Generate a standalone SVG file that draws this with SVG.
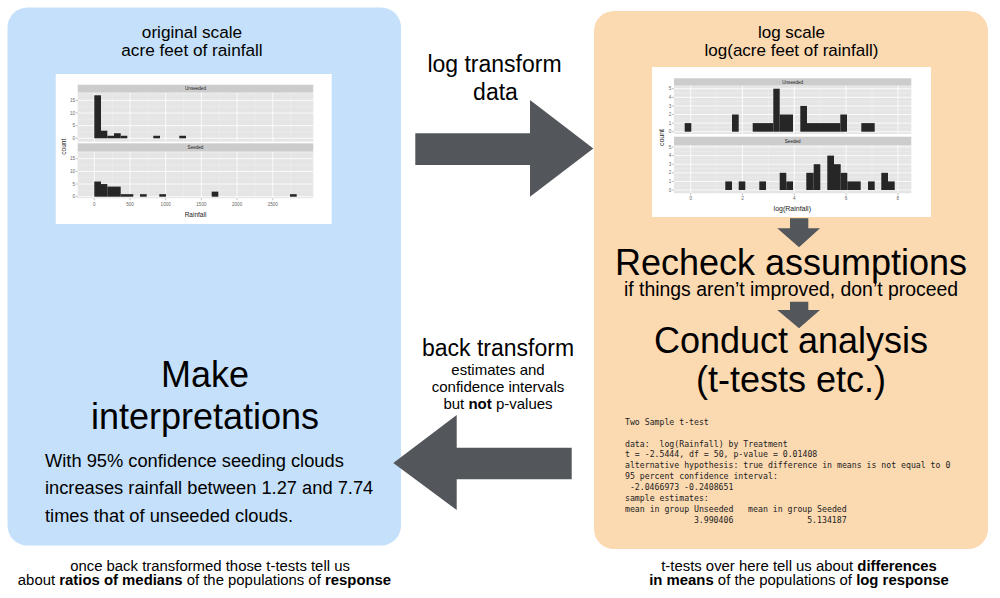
<svg xmlns="http://www.w3.org/2000/svg" width="1000" height="598" viewBox="0 0 1000 598">
<style>
.t{font-family:"Liberation Sans",Arial,sans-serif;fill:#000}
.c{text-anchor:middle}
.m{font-family:"DejaVu Sans Mono","Liberation Mono",monospace;font-size:8.2px;fill:#222}
.pb{fill:#E5E5E5}
.st{fill:#CCCCCC}
.gM{stroke:#fff;stroke-width:0.8}
.gm{stroke:#F2F2F2;stroke-width:0.4}
.bar{fill:#262626}
.tk{stroke:#7F7F7F;stroke-width:0.5}
.ax{font-family:"Liberation Sans",Arial,sans-serif;font-size:4.6px;fill:#666}
.sx{font-family:"Liberation Sans",Arial,sans-serif;font-size:4.6px;fill:#222;text-anchor:middle}
.al{font-family:"Liberation Sans",Arial,sans-serif;fill:#222;text-anchor:middle}
.arr{fill:#53575C}
</style>

<g id="left-box">
<rect x="7.5" y="7.5" width="393.5" height="538" rx="20" fill="#C5E0FA"/>
<text class="t c" x="192" y="37.5" font-size="17.2">original scale</text>
<text class="t c" x="192" y="56" font-size="17.2">acre feet of rainfall</text>
</g>

<g id="left-plot">
<rect x="55.7" y="74" width="276" height="150" fill="#fff"/>
<rect class="st" x="77.7" y="84.7" width="235.6" height="8"/>
<rect class="pb" x="77.7" y="92.7" width="235.6" height="49"/>
<rect class="st" x="77.7" y="143.3" width="235.6" height="8.4"/>
<rect class="pb" x="77.7" y="151.7" width="235.6" height="46.6"/>
<g class="gm">
<path d="M112.2,92.7V141.7M147.9,92.7V141.7M183.6,92.7V141.7M219.3,92.7V141.7M255,92.7V141.7M290.7,92.7V141.7M77.7,132H313.3M77.7,119.3H313.3M77.7,106.7H313.3M77.7,94H313.3"/>
<path d="M112.2,151.7V198.3M147.9,151.7V198.3M183.6,151.7V198.3M219.3,151.7V198.3M255,151.7V198.3M290.7,151.7V198.3M77.7,190.4H313.3M77.7,177.7H313.3M77.7,165H313.3M77.7,152.4H313.3"/>
</g>
<g class="gM">
<path d="M94.3,92.7V141.7M130,92.7V141.7M165.7,92.7V141.7M201.4,92.7V141.7M237.1,92.7V141.7M272.8,92.7V141.7M77.7,138.3H313.3M77.7,125.65H313.3M77.7,113H313.3M77.7,100.35H313.3"/>
<path d="M94.3,151.7V198.3M130,151.7V198.3M165.7,151.7V198.3M201.4,151.7V198.3M237.1,151.7V198.3M272.8,151.7V198.3M77.7,196.7H313.3M77.7,184H313.3M77.7,171.4H313.3M77.7,158.7H313.3"/>
</g>
<g class="bar">
<rect x="94.3" y="95.3" width="6.7" height="43"/>
<rect x="101" y="130.7" width="6.3" height="7.6"/>
<rect x="107.3" y="135.77" width="6.7" height="2.53"/>
<rect x="114" y="133.24" width="6.7" height="5.06"/>
<rect x="120.7" y="135.77" width="6.6" height="2.53"/>
<rect x="153.3" y="135.77" width="6.7" height="2.53"/>
<rect x="179.3" y="135.77" width="6.7" height="2.53"/>
<rect x="94.3" y="181.52" width="6.7" height="15.18"/>
<rect x="101" y="184.05" width="6.3" height="12.65"/>
<rect x="107.3" y="186.58" width="13.4" height="10.12"/>
<rect x="120.7" y="194.17" width="12.6" height="2.53"/>
<rect x="140" y="194.17" width="6.7" height="2.53"/>
<rect x="159.3" y="194.17" width="6.7" height="2.53"/>
<rect x="211.7" y="191.64" width="6.6" height="5.06"/>
<rect x="290" y="194.17" width="6.7" height="2.53"/>
</g>
<path class="tk" d="M75.7,138.3H77.7M75.7,125.65H77.7M75.7,113H77.7M75.7,100.35H77.7M75.7,196.7H77.7M75.7,184H77.7M75.7,171.4H77.7M75.7,158.7H77.7M94.3,198.3V200.3M130,198.3V200.3M165.7,198.3V200.3M201.4,198.3V200.3M237.1,198.3V200.3M272.8,198.3V200.3"/>
<g class="ax" text-anchor="end">
<text x="75" y="139.9">0</text><text x="75" y="127.2">5</text><text x="75" y="114.6">10</text><text x="75" y="101.9">15</text>
<text x="75" y="198.3">0</text><text x="75" y="185.6">5</text><text x="75" y="173">10</text><text x="75" y="160.3">15</text>
</g>
<g class="ax" text-anchor="middle">
<text x="94.3" y="205.5">0</text><text x="130" y="205.5">500</text><text x="165.7" y="205.5">1000</text><text x="201.4" y="205.5">1500</text><text x="237.1" y="205.5">2000</text><text x="272.8" y="205.5">2500</text>
</g>
<text class="sx" x="195.5" y="90.3">Unseeded</text>
<text class="sx" x="195.5" y="149.2">Seeded</text>
<text class="al" x="195.5" y="217" font-size="6.5">Rainfall</text>
<text class="al" x="0" y="0" font-size="6.5" transform="translate(65.5,146.7) rotate(-90)">count</text>
</g>

<g id="right-box">
<rect x="594" y="11" width="394" height="538" rx="20" fill="#FBD9B1"/>
<text class="t c" x="791.5" y="37.5" font-size="17">log scale</text>
<text class="t c" x="791.5" y="56" font-size="17">log(acre feet of rainfall)</text>
<text class="t c" x="791" y="274.5" font-size="36">Recheck assumptions</text>
<text class="t c" x="791" y="295.5" font-size="19.4">if things aren’t improved, don’t proceed</text>
<text class="t c" x="791" y="353" font-size="36">Conduct analysis</text>
<text class="t c" x="791" y="391.5" font-size="36">(t-tests etc.)</text>
</g>

<g id="right-plot">
<rect x="652" y="67" width="279" height="150" fill="#fff"/>
<rect class="st" x="674" y="78.3" width="237.3" height="7.4"/>
<rect class="pb" x="674" y="85.7" width="237.3" height="48.3"/>
<rect class="st" x="674" y="136.7" width="237.3" height="8.3"/>
<rect class="pb" x="674" y="145" width="237.3" height="48.3"/>
<g class="gm">
<path d="M716.6,85.7V134M768.4,85.7V134M820.2,85.7V134M872,85.7V134M674,127.4H911.3M674,118.8H911.3M674,110.2H911.3M674,101.6H911.3M674,93H911.3"/>
<path d="M716.6,145V193.3M768.4,145V193.3M820.2,145V193.3M872,145V193.3M674,185.7H911.3M674,177.1H911.3M674,168.5H911.3M674,159.9H911.3M674,151.3H911.3"/>
</g>
<g class="gM">
<path d="M690.7,85.7V134M742.5,85.7V134M794.3,85.7V134M846.1,85.7V134M897.9,85.7V134M674,131.7H911.3M674,123.1H911.3M674,114.5H911.3M674,105.9H911.3M674,97.3H911.3M674,88.7H911.3"/>
<path d="M690.7,145V193.3M742.5,145V193.3M794.3,145V193.3M846.1,145V193.3M897.9,145V193.3M674,190H911.3M674,181.4H911.3M674,172.8H911.3M674,164.2H911.3M674,155.6H911.3M674,147H911.3"/>
</g>
<g class="bar">
<rect x="684.7" y="123.1" width="6.6" height="8.6"/>
<rect x="732" y="114.5" width="6.7" height="17.2"/>
<rect x="752.7" y="123.1" width="20.6" height="8.6"/>
<rect x="773.3" y="88.7" width="6.4" height="43"/>
<rect x="779.7" y="114.5" width="13.3" height="17.2"/>
<rect x="800.3" y="105.9" width="6.7" height="25.8"/>
<rect x="807" y="123.1" width="33.3" height="8.6"/>
<rect x="840.3" y="114.5" width="6.7" height="17.2"/>
<rect x="861.3" y="123.1" width="13.4" height="8.6"/>
<rect x="725.3" y="181.4" width="6.7" height="8.6"/>
<rect x="738.7" y="181.4" width="6.6" height="8.6"/>
<rect x="759.3" y="181.4" width="6.7" height="8.6"/>
<rect x="779.7" y="172.8" width="6.6" height="17.2"/>
<rect x="786.3" y="181.4" width="6.7" height="8.6"/>
<rect x="806.3" y="172.8" width="7.4" height="17.2"/>
<rect x="813.7" y="164.2" width="6.6" height="25.8"/>
<rect x="827.3" y="155.6" width="6.7" height="34.4"/>
<rect x="834" y="164.2" width="6.7" height="25.8"/>
<rect x="840.7" y="172.8" width="6.6" height="17.2"/>
<rect x="847.3" y="181.4" width="13.4" height="8.6"/>
<rect x="868" y="181.4" width="6.7" height="8.6"/>
<rect x="881.3" y="172.8" width="6.7" height="17.2"/>
<rect x="888" y="181.4" width="6.7" height="8.6"/>
</g>
<path class="tk" d="M672,131.7H674M672,123.1H674M672,114.5H674M672,105.9H674M672,97.3H674M672,88.7H674M672,190H674M672,181.4H674M672,172.8H674M672,164.2H674M672,155.6H674M672,147H674M690.7,193.3V195.3M742.5,193.3V195.3M794.3,193.3V195.3M846.1,193.3V195.3M897.9,193.3V195.3"/>
<g class="ax" text-anchor="end">
<text x="671.3" y="133.3">0</text><text x="671.3" y="124.7">1</text><text x="671.3" y="116.1">2</text><text x="671.3" y="107.5">3</text><text x="671.3" y="98.9">4</text><text x="671.3" y="90.3">5</text>
<text x="671.3" y="191.6">0</text><text x="671.3" y="183">1</text><text x="671.3" y="174.4">2</text><text x="671.3" y="165.8">3</text><text x="671.3" y="157.2">4</text><text x="671.3" y="148.6">5</text>
</g>
<g class="ax" text-anchor="middle">
<text x="690.7" y="200.3">0</text><text x="742.5" y="200.3">2</text><text x="794.3" y="200.3">4</text><text x="846.1" y="200.3">6</text><text x="897.9" y="200.3">8</text>
</g>
<text class="sx" x="792.7" y="83.6">Unseeded</text>
<text class="sx" x="792.7" y="142.5">Seeded</text>
<text class="al" x="792.3" y="210.5" font-size="7">log(Rainfall)</text>
<text class="al" x="0" y="0" font-size="7" transform="translate(663.5,137.5) rotate(-90)">count</text>
</g>

<g id="ttest-output" class="m">
<text x="625" y="425">Two Sample t-test</text>
<text x="625" y="446.5">data:</text><text x="659.5" y="446.5">log(Rainfall) by Treatment</text>
<text x="625" y="457.4">t = -2.5444, df = 50, p-value = 0.01408</text>
<text x="625" y="468.3">alternative hypothesis: true difference in means is not equal to 0</text>
<text x="625" y="479.2">95 percent confidence interval:</text>
<text x="629.9" y="490.1">-2.0466973 -0.2408651</text>
<text x="625" y="501">sample estimates:</text>
<text x="625" y="511.9">mean in group Unseeded</text><text x="748.1" y="511.9">mean in group Seeded</text>
<text x="693.9" y="522.8">3.990406</text><text x="807.2" y="522.8">5.134187</text>
</g>

<g id="interpretation">
<text class="t c" x="205" y="386.7" font-size="36">Make</text>
<text class="t c" x="205" y="429.3" font-size="36">interpretations</text>
<text class="t" x="45" y="466.7" font-size="18.3">With 95% confidence seeding clouds</text>
<text class="t" x="45" y="494.3" font-size="18.3">increases rainfall between 1.27 and 7.74</text>
<text class="t" x="45" y="521.7" font-size="18.3">times that of unseeded clouds.</text>
</g>

<g id="labels">
<text class="t c" x="494.5" y="72.3" font-size="23">log transform</text>
<text class="t c" x="495.5" y="100" font-size="23">data</text>
<text class="t c" x="498" y="355.7" font-size="23">back transform</text>
<text class="t c" x="498" y="375" font-size="15">estimates and</text>
<text class="t c" x="498" y="392" font-size="15">confidence intervals</text>
<text class="t c" x="498" y="409" font-size="15">but <tspan font-weight="bold">not</tspan> p-values</text>
<text class="t c" x="210" y="571" font-size="14.9">once back transformed those t-tests tell us</text>
<text class="t c" x="204.5" y="585" font-size="14.9">about <tspan font-weight="bold">ratios of medians</tspan> of the populations of <tspan font-weight="bold">response</tspan></text>
<text class="t c" x="799" y="571" font-size="14.9">t-tests over here tell us about <tspan font-weight="bold">differences</tspan></text>
<text class="t c" x="799" y="585" font-size="14.9"><tspan font-weight="bold">in means</tspan> of the populations of <tspan font-weight="bold">log response</tspan></text>
</g>

<g id="connectors" class="arr">
<polygon points="415.3,133.3 530,133.3 530,100 593.3,148.5 530,196.7 530,165 415.3,165"/>
<polygon points="571.7,447.7 456.7,447.7 456.7,415 393.3,463 456.7,510 456.7,479.3 571.7,479.3"/>
<polygon points="790,218.3 808.3,218.3 808.3,228.3 820,228.3 799,247.3 777.3,228.3 790,228.3"/>
<polygon points="790,301.7 808.3,301.7 808.3,310 820,310 799,328.3 777.3,310 790,310"/>
</g>
</svg>
